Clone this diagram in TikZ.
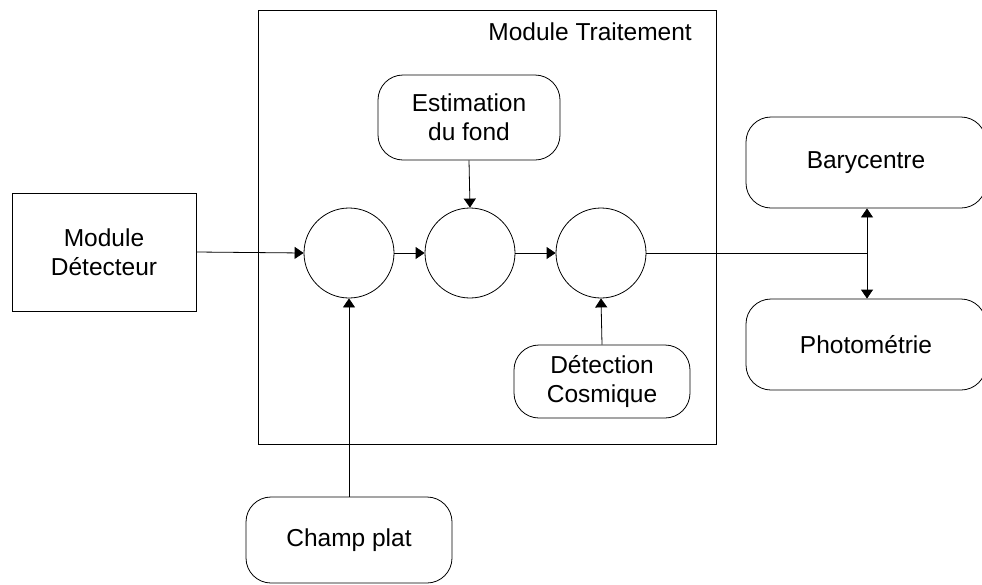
\documentclass[tikz,border=0pt]{standalone}
\usepackage{fontspec}
\setmainfont{Liberation Sans}
\usetikzlibrary{arrows.meta}
\begin{document}
\begin{tikzpicture}[x=1pt,y=-1pt,
  every node/.style={font=\fontsize{24.5}{29}\selectfont, align=center},
  rbox/.style={draw, line width=0.8pt, rounded corners=25pt, inner sep=0pt},
  sqbox/.style={draw, line width=0.8pt, inner sep=0pt},
  disc/.style={draw, line width=0.8pt, circle, minimum size=90pt, inner sep=0pt},
  conn/.style={line width=0.8pt, -{Triangle[length=9pt,width=12pt]}},
  plain/.style={line width=0.8pt}]
\useasboundingbox (0,0) rectangle (982,584);
\node[sqbox, minimum width=458pt, minimum height=434pt] (trait) at (487,227) {};
\node[anchor=base east, inner sep=0pt] (traitlbl) at (692,40) {Module Traitement};
\node[sqbox, minimum width=184pt, minimum height=118pt] (det) at (104,252) {Module\\Détecteur};
\node[disc] (c1) at (349,253) {};
\node[disc] (c2) at (470,253) {};
\node[disc] (c3) at (601,253) {};
\node[rbox, minimum width=182pt, minimum height=85pt] (est) at (469,117.5) {Estimation\\du fond};
\node[rbox, minimum width=176pt, minimum height=73pt] (cos) at (602,381.5) {Détection\\Cosmique};
\node[rbox, minimum width=206pt, minimum height=86pt] (champ) at (349,540) {Champ plat};
\node[rbox, minimum width=240pt, minimum height=91pt] (bary) at (866,162.5) {Barycentre};
\node[rbox, minimum width=240pt, minimum height=91pt] (photo) at (866,344.5) {Photométrie};
\coordinate (j) at (867,253);
\draw[conn] (det.east) -- (c1.west);
\draw[conn] (c1.east) -- (c2.west);
\draw[conn] (c2.east) -- (c3.west);
\draw[conn] (est.south) -- (c2.north);
\draw[conn] (cos.north) -- (c3.south);
\draw[conn] (champ.north) -- (c1.south);
\draw[plain] (c3.east) -- (j);
\draw[conn] (j) -- (j |- bary.south);
\draw[conn] (j) -- (j |- photo.north);
\end{tikzpicture}
\end{document}
